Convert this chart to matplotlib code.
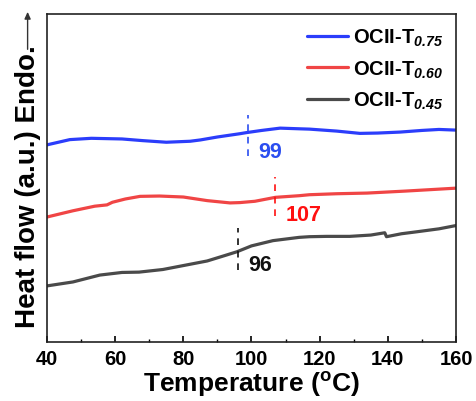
import matplotlib
matplotlib.use("Agg")
import matplotlib.pyplot as plt
import numpy as np
from matplotlib.ticker import MultipleLocator

plt.rcParams['font.family'] = ['Liberation Sans', 'DejaVu Sans']
plt.rcParams['font.weight'] = 'bold'
plt.rcParams['mathtext.fontset'] = 'custom'
plt.rcParams['mathtext.rm'] = 'Liberation Sans:bold:italic'
plt.rcParams['mathtext.it'] = 'Liberation Sans:bold:italic'
plt.rcParams['mathtext.bf'] = 'Liberation Sans:bold'

# DSC traces (temperature in °C, heat flow in arbitrary units)
t_075 = [40, 46.7, 53, 62, 68, 75, 82, 85, 90, 96.6, 98.3, 103, 108.4, 114, 117, 125, 131.8, 137, 143.6, 150, 155, 160]
hf_075 = [6.01, 6.17, 6.21, 6.19, 6.14, 6.09, 6.12, 6.16, 6.25, 6.35, 6.38, 6.45, 6.52, 6.50, 6.49, 6.43, 6.36, 6.37, 6.40, 6.45, 6.48, 6.46]

t_060 = [40, 47.6, 54, 57.6, 59.2, 63, 67.3, 73, 80, 87, 93.7, 96.6, 101, 107, 114, 117, 125, 133.9, 145, 160]
hf_060 = [3.81, 4.00, 4.14, 4.18, 4.26, 4.36, 4.44, 4.45, 4.42, 4.31, 4.24, 4.25, 4.29, 4.41, 4.46, 4.49, 4.52, 4.54, 4.60, 4.69]

t_045 = [40, 47.6, 55.5, 62, 67, 74, 82, 87, 92, 95.7, 100, 106.3, 114, 117, 122, 128.8, 135, 139.1, 139.6, 144, 148.5, 155, 160]
hf_045 = [1.71, 1.83, 2.04, 2.12, 2.13, 2.21, 2.37, 2.47, 2.63, 2.75, 2.93, 3.09, 3.19, 3.21, 3.22, 3.22, 3.26, 3.33, 3.21, 3.30, 3.36, 3.45, 3.55]

series = [
    (t_075, hf_075, '#2b3dfb', r'OCII-T$_{\mathrm{0.75}}$'),
    (t_060, hf_060, '#f04545', r'OCII-T$_{\mathrm{0.60}}$'),
    (t_045, hf_045, '#4a4a4a', r'OCII-T$_{\mathrm{0.45}}$'),
]

# Glass transition temperatures marked on each trace
tg_values = [99, 107, 96]
tg_colors = ['#2b4ef0', '#ff1010', '#111111']
tg_mark_y = [(5.67, 6.92), (3.85, 5.03), (2.18, 3.47)]
tg_label_y = [5.82, 3.89, 2.35]

fig = plt.figure(figsize=(4.76, 4.02), dpi=100)
ax = fig.add_axes([0.0987, 0.1468, 0.8593, 0.8159])

for t, hf, c, lab in series:
    ax.plot(t, hf, color=c, lw=2.3, label=lab, solid_capstyle='round')

for tg, c, (y0, y1), ly in zip(tg_values, tg_colors, tg_mark_y, tg_label_y):
    ax.plot([tg, tg], [y0, y1], color=c, lw=1.2, ls=(0, (4, 3.5)))
    ax.text(tg + 3.0, ly, str(tg), color=c, fontsize=15.5, fontweight='bold',
            ha='left', va='center')

ax.set_xlim(40, 160)
ax.set_ylim(0, 10)
ax.xaxis.set_major_locator(MultipleLocator(20))
ax.xaxis.set_minor_locator(MultipleLocator(10))
ax.tick_params(axis='x', which='major', direction='in', length=4, width=1.2,
               labelsize=14.5, pad=5, top=False)
ax.tick_params(axis='x', which='minor', direction='in', length=2.5, width=1.0, top=False)
ax.set_yticks([])
for s in ax.spines.values():
    s.set_linewidth(1.2)
    s.set_color('#222222')

ax.set_xlabel('Temperature ($\\mathregular{^{o}}$C)', fontsize=19, fontweight='bold', labelpad=1)
fig.text(0.058, 0.535, 'Heat flow (a.u.) Endo.', rotation=90, fontsize=20,
         fontweight='bold', ha='center', va='center')
fig.add_artist(matplotlib.patches.FancyArrowPatch(
    (0.058, 0.868), (0.058, 0.975), transform=fig.transFigure,
    arrowstyle='-|>,head_length=4,head_width=1.8', color='#333333', lw=1.0))

leg = ax.legend(loc='upper right', frameon=False, fontsize=14.5, handlelength=2.0,
                handletextpad=0.25, labelspacing=0.5, borderaxespad=0.25,
                bbox_to_anchor=(1.0, 1.0))

fig.savefig('out.png', dpi=100)
